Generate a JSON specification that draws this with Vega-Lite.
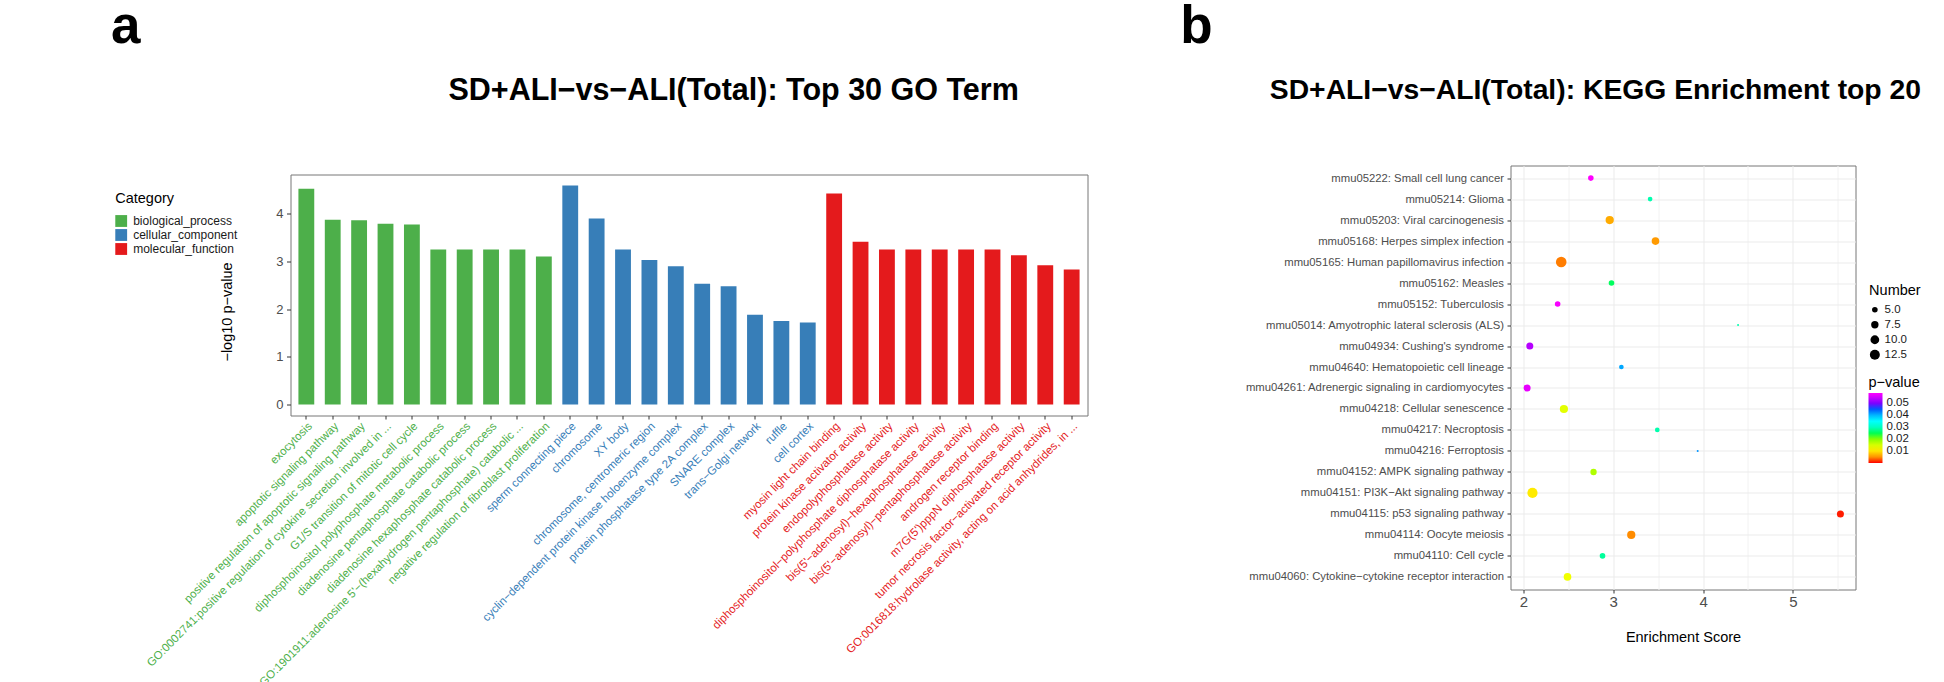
{
  "$schema": "https://vega.github.io/schema/vega-lite/v6.json",
  "background": "white",
  "padding": {"left": 110.5, "top": 0.5, "right": 5, "bottom": 5},
  "config": {
    "font": "Liberation Sans",
    "view": {"stroke": "#777777", "strokeWidth": 1},
    "axis": {"labelFont": "Liberation Sans", "titleFont": "Liberation Sans", "titleFontWeight": "normal", "titleColor": "#000000", "labelColor": "#4D4D4D", "tickColor": "#333333", "domain": false},
    "legend": {"titleFont": "Liberation Sans", "labelFont": "Liberation Sans", "titleFontWeight": "normal", "titleColor": "#000000", "labelColor": "#1A1A1A", "padding": 0}
  },
  "datasets": {
    "go": [
      {"term": "exocytosis", "category": "biological_process", "logp": 4.52},
      {"term": "apoptotic signaling pathway", "category": "biological_process", "logp": 3.87},
      {"term": "positive regulation of apoptotic signaling pathway", "category": "biological_process", "logp": 3.86},
      {"term": "GO:0002741:positive regulation of cytokine secretion involved in ...", "category": "biological_process", "logp": 3.79},
      {"term": "G1/S transition of mitotic cell cycle", "category": "biological_process", "logp": 3.77},
      {"term": "diphosphoinositol polyphosphate metabolic process", "category": "biological_process", "logp": 3.25},
      {"term": "diadenosine pentaphosphate catabolic process", "category": "biological_process", "logp": 3.25},
      {"term": "diadenosine hexaphosphate catabolic process", "category": "biological_process", "logp": 3.25},
      {"term": "GO:1901911:adenosine 5'−(hexahydrogen pentaphosphate) catabolic ...", "category": "biological_process", "logp": 3.25},
      {"term": "negative regulation of fibroblast proliferation", "category": "biological_process", "logp": 3.10},
      {"term": "sperm connecting piece", "category": "cellular_component", "logp": 4.59},
      {"term": "chromosome", "category": "cellular_component", "logp": 3.90},
      {"term": "XY body", "category": "cellular_component", "logp": 3.25},
      {"term": "chromosome, centromeric region", "category": "cellular_component", "logp": 3.03},
      {"term": "cyclin−dependent protein kinase holoenzyme complex", "category": "cellular_component", "logp": 2.90},
      {"term": "protein phosphatase type 2A complex", "category": "cellular_component", "logp": 2.53},
      {"term": "SNARE complex", "category": "cellular_component", "logp": 2.48},
      {"term": "trans−Golgi network", "category": "cellular_component", "logp": 1.88},
      {"term": "ruffle", "category": "cellular_component", "logp": 1.75},
      {"term": "cell cortex", "category": "cellular_component", "logp": 1.72},
      {"term": "myosin light chain binding", "category": "molecular_function", "logp": 4.42},
      {"term": "protein kinase activator activity", "category": "molecular_function", "logp": 3.41},
      {"term": "endopolyphosphatase activity", "category": "molecular_function", "logp": 3.25},
      {"term": "diphosphoinositol−polyphosphate diphosphatase activity", "category": "molecular_function", "logp": 3.25},
      {"term": "bis(5'−adenosyl)−hexaphosphatase activity", "category": "molecular_function", "logp": 3.25},
      {"term": "bis(5'−adenosyl)−pentaphosphatase activity", "category": "molecular_function", "logp": 3.25},
      {"term": "androgen receptor binding", "category": "molecular_function", "logp": 3.25},
      {"term": "m7G(5')pppN diphosphatase activity", "category": "molecular_function", "logp": 3.13},
      {"term": "tumor necrosis factor−activated receptor activity", "category": "molecular_function", "logp": 2.92},
      {"term": "GO:0016818:hydrolase activity, acting on acid anhydrides, in ...", "category": "molecular_function", "logp": 2.83}
    ],
    "kegg": [
      {"pathway": "mmu05222: Small cell lung cancer", "score": 2.75, "Number": 5, "pvalue": 0.0586},
      {"pathway": "mmu05214: Glioma", "score": 3.41, "Number": 4, "pvalue": 0.0290},
      {"pathway": "mmu05203: Viral carcinogenesis", "score": 2.96, "Number": 9, "pvalue": 0.0065},
      {"pathway": "mmu05168: Herpes simplex infection", "score": 3.47, "Number": 8, "pvalue": 0.0055},
      {"pathway": "mmu05165: Human papillomavirus infection", "score": 2.42, "Number": 14, "pvalue": 0.0039},
      {"pathway": "mmu05162: Measles", "score": 2.98, "Number": 5, "pvalue": 0.0254},
      {"pathway": "mmu05152: Tuberculosis", "score": 2.38, "Number": 5, "pvalue": 0.0580},
      {"pathway": "mmu05014: Amyotrophic lateral sclerosis (ALS)", "score": 4.39, "Number": 2, "pvalue": 0.0290},
      {"pathway": "mmu04934: Cushing's syndrome", "score": 2.07, "Number": 7, "pvalue": 0.0533},
      {"pathway": "mmu04640: Hematopoietic cell lineage", "score": 3.09, "Number": 4, "pvalue": 0.0410},
      {"pathway": "mmu04261: Adrenergic signaling in cardiomyocytes", "score": 2.04, "Number": 7, "pvalue": 0.0568},
      {"pathway": "mmu04218: Cellular senescence", "score": 2.45, "Number": 9, "pvalue": 0.0140},
      {"pathway": "mmu04217: Necroptosis", "score": 3.49, "Number": 4, "pvalue": 0.0289},
      {"pathway": "mmu04216: Ferroptosis", "score": 3.94, "Number": 2, "pvalue": 0.0420},
      {"pathway": "mmu04152: AMPK signaling pathway", "score": 2.78, "Number": 6, "pvalue": 0.0176},
      {"pathway": "mmu04151: PI3K−Akt signaling pathway", "score": 2.10, "Number": 13, "pvalue": 0.0104},
      {"pathway": "mmu04115: p53 signaling pathway", "score": 5.53, "Number": 7, "pvalue": 0.0003},
      {"pathway": "mmu04114: Oocyte meiosis", "score": 3.20, "Number": 9, "pvalue": 0.0047},
      {"pathway": "mmu04110: Cell cycle", "score": 2.88, "Number": 5, "pvalue": 0.0280},
      {"pathway": "mmu04060: Cytokine−cytokine receptor interaction", "score": 2.49, "Number": 8, "pvalue": 0.0129}
    ]
  },
  "bounds": "full",
  "spacing": 91,
  "resolve": {"scale": {"size": "independent", "color": "independent"}, "legend": {"size": "independent", "color": "independent"}},
  "hconcat": [
    {
      "bounds": "flush",
      "spacing": 0,
      "resolve": {"scale": {"size": "independent", "color": "independent"}, "legend": {"size": "independent", "color": "independent"}},
      "vconcat": [
        {
          "width": 797,
          "height": 9,
          "data": {"values": []},
          "mark": "point",
          "encoding": {},
          "view": {"stroke": null},
          "title": {"text": "a", "anchor": "start", "frame": "group", "orient": "top", "baseline": "alphabetic", "offset": 69.6, "dx": -179.5, "fontSize": 53, "fontWeight": "bold", "font": "Liberation Sans", "color": "#000000"}
        },
        {
          "width": 797,
          "height": 241,
          "data": {"name": "go"},
          "title": {"text": "SD+ALI−vs−ALI(Total): Top 30 GO Term", "anchor": "start", "frame": "group", "orient": "top", "baseline": "alphabetic", "offset": 44, "dx": 158, "fontSize": 30.5, "fontWeight": "bold", "font": "Liberation Sans", "color": "#000000"},
          "mark": {"type": "bar"},
          "encoding": {
            "x": {
              "field": "term", "type": "nominal", "sort": null,
              "scale": {"paddingInner": 0.4, "paddingOuter": 0.3},
              "axis": {
                "title": null, "labelAngle": -45, "labelAlign": "right", "labelBaseline": "top",
                "labelFontSize": 11.5, "labelLimit": 1000, "labelOverlap": false, "labelPadding": 1, "tickSize": 3.5,
                "labelColor": {
                  "condition": [
                    {"test": "indexof([\"exocytosis\",\"apoptotic signaling pathway\",\"positive regulation of apoptotic signaling pathway\",\"GO:0002741:positive regulation of cytokine secretion involved in ...\",\"G1/S transition of mitotic cell cycle\",\"diphosphoinositol polyphosphate metabolic process\",\"diadenosine pentaphosphate catabolic process\",\"diadenosine hexaphosphate catabolic process\",\"GO:1901911:adenosine 5'−(hexahydrogen pentaphosphate) catabolic ...\",\"negative regulation of fibroblast proliferation\"], datum.value) >= 0", "value": "#4DAF4A"},
                    {"test": "indexof([\"sperm connecting piece\",\"chromosome\",\"XY body\",\"chromosome, centromeric region\",\"cyclin−dependent protein kinase holoenzyme complex\",\"protein phosphatase type 2A complex\",\"SNARE complex\",\"trans−Golgi network\",\"ruffle\",\"cell cortex\"], datum.value) >= 0", "value": "#377EB8"}
                  ],
                  "value": "#E41A1C"
                }
              }
            },
            "y": {
              "field": "logp", "type": "quantitative",
              "scale": {"domain": [-0.23, 4.82], "nice": false, "zero": false},
              "axis": {"values": [0, 1, 2, 3, 4], "grid": false, "title": "−log10 p−value", "titleFontSize": 14.5, "labelFontSize": 13, "tickSize": 4, "labelPadding": 3.5, "titleAngle": -90, "titleX": -63.3, "titleY": 137, "titleAlign": "center", "titleBaseline": "middle"}
            },
            "color": {
              "field": "category", "type": "nominal",
              "scale": {"domain": ["biological_process", "cellular_component", "molecular_function"], "range": ["#4DAF4A", "#377EB8", "#E41A1C"]},
              "legend": {"title": "Category", "orient": "none", "legendX": -175.3, "legendY": 17, "titleFontSize": 14.5, "labelFontSize": 12, "symbolType": "square", "symbolSize": 140, "symbolStrokeWidth": 0, "rowPadding": 2, "titlePadding": 9, "labelOffset": 6}
            }
          }
        }
      ]
    },
    {
      "bounds": "flush",
      "spacing": 0,
      "resolve": {"scale": {"size": "independent", "color": "independent"}, "legend": {"size": "independent", "color": "independent"}},
      "vconcat": [
        {
          "width": 345,
          "height": 424,
          "data": {"name": "kegg"},
          "title": {"text": "SD+ALI−vs−ALI(Total): KEGG Enrichment top 20", "anchor": "start", "frame": "group", "orient": "top", "baseline": "alphabetic", "offset": 37.8, "dx": -240.7, "fontSize": 28.3, "fontWeight": "bold", "font": "Liberation Sans", "color": "#000000"},
          "encoding": {
            "y": {
              "field": "pathway", "type": "nominal", "sort": null,
              "scale": {"padding": 0.6},
              "axis": {"title": null, "labelFontSize": 11.3, "labelLimit": 1000, "labelOverlap": false, "tickSize": 3.5, "labelPadding": 3.5, "grid": true, "gridColor": "#EBEBEB", "gridWidth": 1}
            }
          },
          "layer": [
            {
              "mark": {"type": "circle", "opacity": 0},
              "encoding": {
                "x": {
                  "field": "score", "type": "quantitative",
                  "scale": {"domain": [1.855, 5.698], "nice": false, "zero": false},
                  "axis": {"orient": "top", "values": [2.5, 3.5, 4.5, 5.5], "grid": true, "gridColor": "#F2F2F2", "gridWidth": 1, "labels": false, "ticks": false, "domain": false, "title": null}
                }
              }
            },
            {
              "mark": {"type": "circle", "opacity": 1},
              "encoding": {
                "x": {
                  "field": "score", "type": "quantitative",
                  "scale": {"domain": [1.855, 5.698], "nice": false, "zero": false},
                  "axis": {"values": [2, 3, 4, 5], "grid": true, "gridColor": "#EBEBEB", "gridWidth": 1, "title": "Enrichment Score", "titleFontSize": 14.5, "labelFontSize": 15, "tickSize": 3.5, "labelPadding": 1, "titleY": 51.5, "titleBaseline": "alphabetic"}
                },
                "size": {
                  "field": "Number", "type": "quantitative",
                  "scale": {"domain": [2, 14], "range": [4, 113]},
                  "legend": {"title": "Number", "orient": "none", "legendX": 358.6, "legendY": 118, "values": [5, 7.5, 10, 12.5], "format": ".1f", "titleFontSize": 14.5, "labelFontSize": 11.5, "symbolFillColor": "#000000", "symbolStrokeWidth": 0, "symbolOpacity": 1, "titlePadding": 6, "rowPadding": 2, "labelOffset": 4}
                },
                "color": {
                  "field": "pvalue", "type": "quantitative",
                  "scale": {"domain": [0, 0.01172, 0.02344, 0.03516, 0.04688, 0.0586], "range": ["#FF0000", "#FFFF00", "#00FF00", "#00FFFF", "#0000FF", "#FF00FF"]},
                  "legend": {"title": "p−value", "type": "gradient", "direction": "vertical", "orient": "none", "legendX": 358, "legendY": 210, "values": [0.01, 0.02, 0.03, 0.04, 0.05], "format": ".2f", "gradientLength": 70, "gradientThickness": 14, "gradientStrokeWidth": 0, "titleFontSize": 14.5, "labelFontSize": 11.5, "titlePadding": 3, "labelOffset": 4, "labelOverlap": false}
                }
              }
            }
          ],
          "resolve": {"axis": {"x": "independent"}}
        },
        {
          "width": 345,
          "height": 1,
          "data": {"values": []},
          "mark": "point",
          "encoding": {},
          "view": {"stroke": null},
          "title": {"text": "b", "anchor": "start", "frame": "group", "orient": "top", "baseline": "alphabetic", "offset": 493.6, "dx": -330.2, "fontSize": 53, "fontWeight": "bold", "font": "Liberation Sans", "color": "#000000"}
        }
      ]
    }
  ]
}
